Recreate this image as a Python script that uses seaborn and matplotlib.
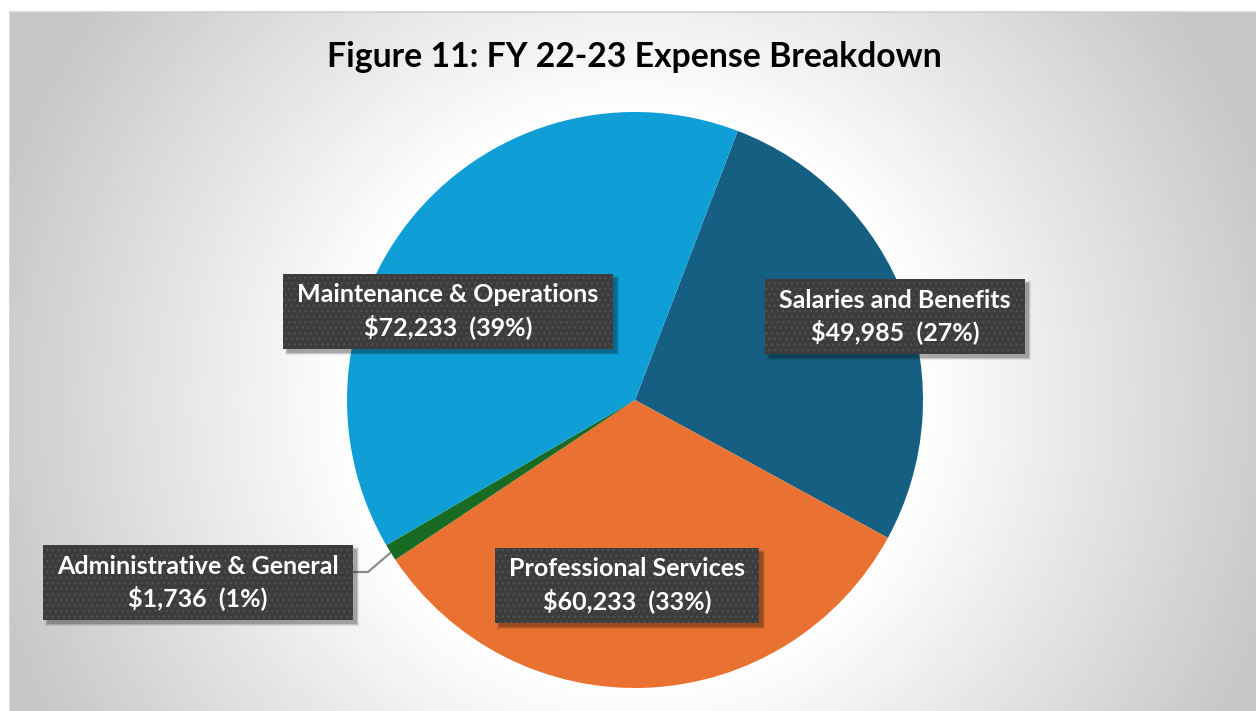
import numpy as np
import matplotlib
matplotlib.use("Agg")
import matplotlib.pyplot as plt
from matplotlib.patches import Rectangle
import seaborn as sns

# ------------------------------------------------------------------ #
#  Data                                                                #
# ------------------------------------------------------------------ #
categories = ["Salaries and Benefits", "Professional Services",
              "Administrative & General", "Maintenance & Operations"]
amounts = [49985, 60233, 1736, 72233]
slice_colors = ["#156082", "#E97132", "#196B24", "#0F9ED5"]
title = "Figure 11: FY 22-23 Expense Breakdown"

# ------------------------------------------------------------------ #
#  Layout (figure pixels, y measured from top)                         #
# ------------------------------------------------------------------ #
W, H = 1256, 711
PIE_CENTER = (635, 400)
PIE_RADIUS = 288
START_ANGLE = 69.1
LINE_GAP = 32          # distance between the two label lines
label_pos = {
    "Salaries and Benefits": (895, 316),
    "Professional Services": (627, 585),
    "Administrative & General": (198, 582),
    "Maintenance & Operations": (448, 311),
}

sns.set_theme(style="white")
plt.rcParams["font.family"] = ["Lato", "DejaVu Sans"]
plt.rcParams["hatch.linewidth"] = 0.9
palette = sns.color_palette(slice_colors)

fig = plt.figure(figsize=(W / 100, H / 100), dpi=100)
fig.patch.set_facecolor("white")
ax = fig.add_axes([0, 0, 1, 1])

# chart area background: soft radial gradient, light border
x0, ytop = 10, 12
xx, yy = np.meshgrid(np.arange(x0, W) + 0.5, np.arange(ytop, H) + 0.5)
r = np.hypot(xx - PIE_CENTER[0], yy - PIE_CENTER[1])
shade = np.clip(255 - 0.145 * np.clip(r - 280, 0, None), 198, 255) / 255.0
ax.imshow(shade, cmap="gray", vmin=0, vmax=1, extent=(x0, W, 0, H - ytop),
          origin="upper", zorder=0, interpolation="bilinear")
ax.add_patch(Rectangle((x0, -2), W - x0 + 2, H - ytop + 2, fill=False,
                       edgecolor="#cfcfcf", linewidth=1.2, zorder=1))

# pie
wedges, _ = ax.pie(amounts, colors=palette, startangle=START_ANGLE,
                   counterclock=False, radius=PIE_RADIUS,
                   center=(PIE_CENTER[0], H - PIE_CENTER[1]),
                   wedgeprops=dict(linewidth=0), frame=True)
for w in wedges:
    w.set_zorder(2)
ax.set_xlim(0, W)
ax.set_ylim(0, H)
ax.set_aspect("equal")
ax.axis("off")

total = sum(amounts)
label_texts = []
for cat, amt, wedge in zip(categories, amounts, wedges):
    pct = round(amt / total * 100)
    lx, ly = label_pos[cat]
    kw = dict(ha="center", va="center", fontsize=18, fontweight="bold",
              color="white", zorder=6)
    t1 = ax.text(lx, H - ly + LINE_GAP / 2, cat, **kw)
    t2 = ax.text(lx, H - ly - LINE_GAP / 2, f"\\${amt:,}  ({pct}%)", **kw)
    label_texts.append((lx, ly, t1, t2))

    if cat == "Administrative & General":
        # leader line from the thin slice to its label
        mid = np.deg2rad((wedge.theta1 + wedge.theta2) / 2)
        px = PIE_CENTER[0] + PIE_RADIUS * np.cos(mid)
        py = H - PIE_CENTER[1] + PIE_RADIUS * np.sin(mid)
        ax.plot([px, 368, 352], [py, H - 572, H - 572], color="#8c8c8c",
                linewidth=1.6, zorder=3, solid_capstyle="butt")

ax.text(634, H - 57, title, ha="center", va="center", fontsize=24.3,
        fontweight="bold", color="black", zorder=6)

# dark dotted boxes (with soft drop shadow) behind each label
fig.canvas.draw()
renderer = fig.canvas.get_renderer()
to_data = ax.transData.inverted()
for lx, ly, t1, t2 in label_texts:
    ext1 = t1.get_window_extent(renderer)
    ext2 = t2.get_window_extent(renderer)
    half_w = max(ext1.width, ext2.width) / 2 + 14
    half_h = 37.5
    (bx0, by0), (bx1, by1) = to_data.transform(
        [[lx - half_w, H - ly - half_h], [lx + half_w, H - ly + half_h]])
    for grow, alpha in [(2, 0.08), (1, 0.12), (0, 0.18)]:
        ax.add_patch(Rectangle((bx0 + 4 - grow, by0 - 4 - grow),
                               bx1 - bx0 + 2 * grow, by1 - by0 + 2 * grow,
                               facecolor="black", alpha=alpha, linewidth=0,
                               zorder=4))
    ax.add_patch(Rectangle((bx0, by0), bx1 - bx0, by1 - by0,
                           facecolor="#3c3c3c", edgecolor="#525252",
                           linewidth=0, hatch="...", zorder=5))

fig.savefig("out.png", dpi=100)
